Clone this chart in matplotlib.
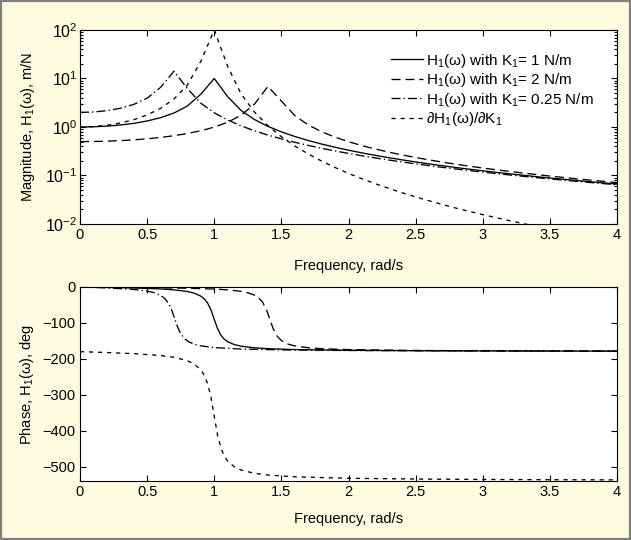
import matplotlib
matplotlib.use("Agg")
import matplotlib.pyplot as plt
from matplotlib.ticker import FuncFormatter, LogLocator, NullFormatter
from matplotlib.patches import Rectangle

plt.rcParams['font.family'] = ['Liberation Sans', 'DejaVu Sans']
plt.rcParams['mathtext.fontset'] = 'custom'
plt.rcParams['mathtext.rm'] = 'Liberation Sans'
plt.rcParams['mathtext.it'] = 'Liberation Sans:italic'
plt.rcParams['mathtext.bf'] = 'Liberation Sans:bold'
plt.rcParams['lines.scale_dashes'] = False
plt.rcParams['axes.unicode_minus'] = True

# ---------------- data ----------------
freq = [0.0, 0.1, 0.2, 0.3, 0.4, 0.5, 0.6, 0.7, 0.8, 0.9, 1.0,
        1.1, 1.2, 1.3, 1.4, 1.5, 1.6, 1.7, 1.8, 1.9, 2.0,
        2.1, 2.2, 2.3, 2.4, 2.5, 2.6, 2.7, 2.8, 2.9, 3.0,
        3.1, 3.2, 3.3, 3.4, 3.5, 3.6, 3.7, 3.8, 3.9, 4.0]

mag_k1 = [1.0, 1.010, 1.0415, 1.0983, 1.1891, 1.3304, 1.5557, 1.9426, 2.7116, 4.7565, 10.0,
          4.218, 2.1926, 1.4242, 1.0308, 0.7943, 0.6377, 0.5270, 0.4450, 0.3821, 0.3326,
          0.2927, 0.2600, 0.2328, 0.2098, 0.1903, 0.1734, 0.1588, 0.1461, 0.1349, 0.1249,
          0.1161, 0.1082, 0.1011, 0.0946, 0.0888, 0.0836, 0.0788, 0.0744, 0.0703, 0.0666]

mag_k2 = [0.5, 0.5025, 0.5102, 0.5235, 0.5433, 0.5712, 0.6093, 0.6615, 0.7340, 0.8380, 0.9950,
          1.2537, 1.7461, 2.9748, 6.868, 3.430, 1.717, 1.1036, 0.7981, 0.6168, 0.4975,
          0.4134, 0.3511, 0.3032, 0.2654, 0.2349, 0.2098, 0.1888, 0.1710, 0.1558, 0.1427,
          0.1313, 0.1213, 0.1124, 0.1045, 0.0975, 0.0912, 0.0855, 0.0803, 0.0757, 0.0714]

mag_k025 = [2.0, 2.0404, 2.1719, 2.4325, 2.9210, 3.9223, 6.5653, 14.142, 6.2017, 3.0979, 1.9612,
            1.3918, 1.0553, 0.8354, 0.6818, 0.5693, 0.4840, 0.4174, 0.3642, 0.3209, 0.2853,
            0.2554, 0.2301, 0.2085, 0.1899, 0.1737, 0.1596, 0.1472, 0.1361, 0.1263, 0.1176,
            0.1097, 0.1026, 0.0962, 0.0904, 0.0851, 0.0802, 0.0758, 0.0717, 0.0680, 0.0645]

mag_dk = [1.0, 1.020, 1.0847, 1.2063, 1.4140, 1.7700, 2.4202, 3.7737, 7.3528, 22.624, 100.0,
          17.79, 4.807, 2.0284, 1.0625, 0.6309, 0.4067, 0.2777, 0.1980, 0.1460, 0.1106,
          0.0857, 0.0676, 0.0542, 0.0440, 0.0362, 0.0301, 0.0252, 0.0213, 0.0182, 0.0156,
          0.0135, 0.0117, 0.0102, 0.00895, 0.00789, 0.00699, 0.00621, 0.00554, 0.00494, 0.00444]

ph_freq_k1 = [0.0, 0.2, 0.4, 0.6, 0.7, 0.8, 0.85, 0.9, 0.925, 0.95, 0.975, 1.0,
              1.025, 1.05, 1.075, 1.1, 1.15, 1.2, 1.3, 1.4, 1.6, 2.0, 2.5, 3.0, 3.5, 4.0]
ph_k1 = [0.0, -1.19, -2.73, -5.36, -7.82, -12.53, -17.03, -25.35, -32.65, -44.26, -63.14, -90.0,
         -116.29, -134.31, -145.37, -152.35, -160.37, -164.74, -169.33, -171.70, -174.14,
         -176.19, -177.27, -177.85, -178.22, -178.47]

ph_freq_k2 = [0.0, 0.4, 0.8, 1.0, 1.1, 1.2, 1.25, 1.3, 1.33, 1.36, 1.39, 1.414,
              1.44, 1.47, 1.5, 1.55, 1.6, 1.7, 1.8, 2.0, 2.5, 3.0, 3.5, 4.0]
ph_k2 = [0.0, -1.25, -3.37, -5.71, -7.93, -12.09, -15.95, -22.75, -29.92, -42.12, -63.96, -90.0,
         -117.07, -137.59, -149.04, -158.94, -164.05, -169.19, -171.74, -174.29,
         -176.63, -177.55, -178.04, -178.36]

ph_freq_k025 = [0.0, 0.2, 0.4, 0.5, 0.55, 0.6, 0.63, 0.66, 0.68, 0.7071,
                0.73, 0.75, 0.78, 0.81, 0.85, 0.9, 1.0, 1.2, 1.5, 2.0, 2.5, 3.0, 3.5, 4.0]
ph_k025 = [0.0, -2.49, -6.71, -11.31, -15.56, -23.20, -31.43, -45.70, -61.06, -90.0,
           -114.26, -129.81, -144.26, -152.57, -159.09, -163.81, -168.69, -172.72,
           -175.10, -176.73, -177.51, -177.98, -178.29, -178.52]

ph_dk = [-180.0, -182.4, -185.5, -190.7, -195.6, -205.1, -214.1, -230.7, -245.3, -268.5, -306.3, -360.0,
         -412.6, -448.6, -470.7, -484.7, -500.7, -509.5, -518.7, -523.4, -528.3,
         -532.4, -534.5, -535.7, -536.4, -536.9]

labels = ['H$_1$(ω) with K$_1$= 1 N/m',
          'H$_1$(ω) with K$_1$= 2 N/m',
          'H$_1$(ω) with K$_1$= 0.25 N/m',
          '∂H$_1$(ω)/∂K$_1$']

x_ticks = [0, 0.5, 1, 1.5, 2, 2.5, 3, 3.5, 4]
phase_ticks = [0, -100, -200, -300, -400, -500]

# ---------------- styling ----------------
bg = '#fefbe0'
lw = 0.95
fs = 10.5
st_solid = dict(color='black', lw=lw, linestyle='-')
st_long = dict(color='black', lw=lw, dashes=(6.5, 3.5))
st_dashdot = dict(color='black', lw=lw, dashes=(6.5, 2.2, 1.0, 2.2))
st_short = dict(color='black', lw=lw, dashes=(3.0, 3.5))

fig = plt.figure(figsize=(6.31, 5.40), dpi=100, facecolor=bg)
ax1 = fig.add_axes([80/631, 1-224/540, 537/631, 194/540])
ax2 = fig.add_axes([80/631, 1-481/540, 537/631, 194/540])

fig.patches.append(Rectangle((0.0015, 0.0015), 0.997, 0.997, transform=fig.transFigure,
                             fill=False, edgecolor='#808080', lw=1.6, zorder=10))

ax1.semilogy(freq, mag_k1, label=labels[0], **st_solid)
ax1.semilogy(freq, mag_k2, label=labels[1], **st_long)
ax1.semilogy(freq, mag_k025, label=labels[2], **st_dashdot)
ax1.semilogy(freq, mag_dk, label=labels[3], **st_short)
ax1.set_ylim(1e-2, 1e2)

ax2.plot(ph_freq_k1, ph_k1, **st_solid)
ax2.plot(ph_freq_k2, ph_k2, **st_long)
ax2.plot(ph_freq_k025, ph_k025, **st_dashdot)
ax2.plot(ph_freq_k1, ph_dk, **st_short)
ax2.set_ylim(-540, 0)
ax2.set_yticks(phase_ticks)

fmt = FuncFormatter(lambda v, p: '%g' % v)
for ax in (ax1, ax2):
    ax.set_facecolor('white')
    ax.set_xlim(0, 4)
    ax.set_xticks(x_ticks)
    ax.xaxis.set_major_formatter(fmt)
    ax.tick_params(which='both', direction='in', top=True, right=True,
                   labelsize=fs, width=0.8, pad=3)
    ax.tick_params(which='major', length=4)
    ax.tick_params(which='minor', length=2)
    for s in ax.spines.values():
        s.set_linewidth(0.8)

ax1.tick_params(axis='y', labelsize=11.5, pad=2)

ax1.set_xlabel('Frequency, rad/s', fontsize=fs, labelpad=12)
ax2.set_xlabel('Frequency, rad/s', fontsize=fs, labelpad=9)

ax1.yaxis.set_minor_locator(LogLocator(base=10, subs=range(2, 10), numticks=20))
ax1.yaxis.set_minor_formatter(NullFormatter())
ax1.set_ylabel('Magnitude, H$_1$(ω), m/N', fontsize=fs)
ax2.set_ylabel('Phase, H$_1$(ω), deg', fontsize=fs)
ax1.yaxis.set_label_coords(-0.080, 0.5)
ax2.yaxis.set_label_coords(-0.082, 0.5)

leg = ax1.legend(loc='upper right', frameon=False, fontsize=11, handlelength=2.1,
                 handletextpad=0.2, labelspacing=0.1, borderaxespad=0.0,
                 bbox_to_anchor=(0.968, 0.92))

fig.savefig('out.png', dpi=100, facecolor=bg)
